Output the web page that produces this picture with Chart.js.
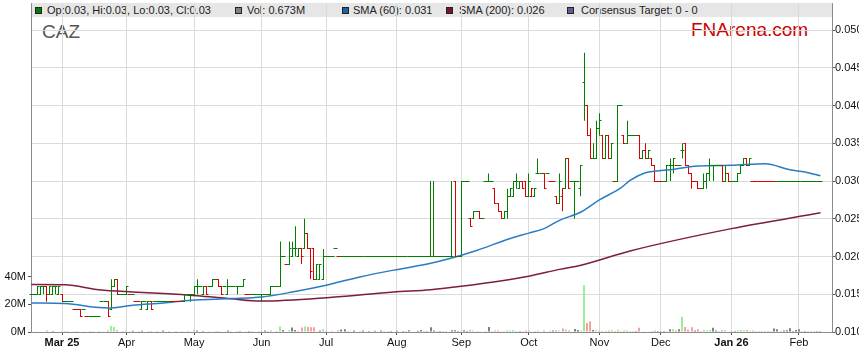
<!DOCTYPE html>
<html>
<head>
<meta charset="utf-8">
<script src="https://cdn.jsdelivr.net/npm/chart.js@4.4.1/dist/chart.umd.min.js"></script>
<style>
  html, body { margin: 0; padding: 0; background: #fff; overflow: hidden; }
  #wrap { position: relative; width: 859px; height: 363px; font-family: Arial, "Liberation Sans", sans-serif; }
  #header { position: absolute; left: 31px; top: 3px; width: 801px; height: 14px; background: #e6e6e6; z-index: 1; }
  .box { position: absolute; top: 7px; width: 5px; height: 5px; border: 1px solid #222; z-index: 1; }
  .lbl { position: absolute; top: 4px; font-size: 11px; line-height: 13px; color: #222; white-space: nowrap; z-index: 1; }
  #sym { position: absolute; left: 42px; top: 21px; font-size: 19px; color: #555; z-index: 1; }
  #brand { position: absolute; left: 691px; top: 19px; font-size: 19px; color: #cc0000; z-index: 1; }
  #chart { position: absolute; left: 0; top: 0; z-index: 2; }
</style>
</head>
<body>
<div id="wrap">
  <div id="header"></div>
  <div class="box" style="left:35px;background:#008000"></div><div class="lbl" style="left:47px">Op:0.03, Hi:0.03, Lo:0.03, Cl:0.03</div>
  <div class="box" style="left:235px;background:#808080"></div><div class="lbl" style="left:247px">Vol: 0.673M</div>
  <div class="box" style="left:342px;background:#1565a8"></div><div class="lbl" style="left:353px">SMA (60): 0.031</div>
  <div class="box" style="left:446px;background:#7b1230"></div><div class="lbl" style="left:459px">SMA (200): 0.026</div>
  <div class="box" style="left:567px;background:#5c5f99"></div><div class="lbl" style="left:581px">Consensus Target: 0 - 0</div>
  <div id="sym">CAZ</div>
  <div id="brand">FNArena.com</div>
  <canvas id="chart" width="859" height="363"></canvas>
</div>
<script>
// daily bars from Mon 17 Feb 2025, weekdays only
const START = Date.UTC(2025, 1, 17);
const NUM_DAYS = 258;

const monthLabels = ['Mar 25', 'Apr', 'May', 'Jun', 'Jul', 'Aug', 'Sep', 'Oct', 'Nov', 'Dec', 'Jan 26', 'Feb'];
const priceTicks = [10, 15, 20, 25, 30, 35, 40, 45, 50];   // tenths of a cent
const volTicks = [0, 20, 40];                             // millions

// prices in tenths of a cent (15 = 0.015)
const opens = [
  15,15,15,15,16,16,15,15,16,15, 15,14,14,14,13,13,13,13,12,12,
  12,12,12,14,14,14,13,16,17,15, 15,15,15,15,14,14,13,14,13,14,
  14,14,14,14,14,14,14,14,14,14, 14,15,15,15,16,16,15,16,16,16,
  17,17,16,16,15,16,16,16,16,16, 15,15,15,15,15,15,15,15,15,16,
  16,16,20,19,19,20,21,20,21,21, 23,21,21,17,17,17,20,20,20,21,
  20,20,20,20,20,20,20,20,20,20, 20,20,20,20,20,20,20,20,20,20,
  20,20,20,20,20,20,20,20,20,20, 20,20,20,20,20,20,20,20,30,20,
  20,30,30,25,25,26,26,25,30,30, 30,29,27,26,25,26,28,28,30,29,
  30,30,28,28,28,31,31,31,31,30, 30,28,27,28,29,33,30,30,30,29,
  43,40,36,33,33,37,36,33,36,33, 30,30,40,36,35,36,36,36,36,33,
  34,33,33,32,30,30,30,30,32,32, 32,32,34,35,32,31,30,30,29,29,
  30,31,32,32,32,32,30,31,30,30, 30,31,32,33,32,30,30,30,30,30,
  30,30,30,30,30,30,30,30,30,30, 30,30,30,30,30,30,30,30
];
const highs = [
  15,15,16,16,16,16,16,16,16,16, 15,14,14,14,13,13,13,13,12,12,
  12,12,12,14,14,14,17,17,17,15, 15,16,15,15,14,14,14,14,14,14,
  14,14,14,14,14,14,14,14,14,14, 15,15,15,16,17,16,16,16,16,17,
  17,17,16,16,17,16,16,16,16,17, 15,15,15,15,15,15,15,15,16,16,
  16,22,20,19,22,22,24,21,21,25, 23,21,21,19,19,21,20,20,20,21,
  20,20,20,20,20,20,20,20,20,20, 20,20,20,20,20,20,20,20,20,20,
  20,20,20,20,20,20,20,20,20,20, 30,30,20,20,20,20,20,30,30,20,
  30,30,30,25,26,26,26,25,30,31, 30,29,27,26,26,29,29,30,31,30,
  30,30,31,29,29,33,31,31,31,30, 30,28,31,29,33,33,30,30,30,32,
  47,40,37,35,38,39,36,36,36,35, 30,40,40,36,38,36,36,36,36,34,
  35,34,33,32,30,30,30,32,33,33, 32,32,35,35,32,31,30,30,29,31,
  31,33,32,32,32,32,32,31,30,30, 31,32,33,33,33,30,30,30,30,30,
  30,30,30,30,30,30,30,30,30,30, 30,30,30,30,30,30,30,30
];
const lows = [
  15,15,15,15,15,14,15,15,15,15, 14,14,14,14,13,13,12,13,12,12,
  12,12,12,14,14,12,13,16,15,15, 15,15,15,15,14,14,13,14,13,13,
  14,14,14,14,14,14,14,14,14,14, 14,15,14,15,15,16,15,15,16,16,
  17,16,15,16,15,16,16,15,16,16, 15,15,15,15,15,14,15,15,15,16,
  16,16,20,19,19,20,20,20,19,21, 21,17,17,17,17,17,20,20,20,21,
  20,20,20,20,20,20,20,20,20,20, 20,20,20,20,20,20,20,20,20,20,
  20,20,20,20,20,20,20,20,20,20, 20,20,20,20,20,20,20,20,20,20,
  20,30,30,24,25,26,25,25,30,30, 30,27,26,25,25,25,28,28,29,29,
  29,28,28,28,28,31,31,29,31,30, 30,27,27,26,29,29,30,25,30,28,
  38,36,33,33,33,36,33,33,33,33, 30,30,40,35,35,36,36,36,33,33,
  33,33,32,30,30,30,30,30,30,31, 32,32,33,32,31,29,30,29,29,29,
  29,30,30,32,32,30,30,30,30,30, 30,31,32,32,32,30,30,30,30,30,
  30,30,30,30,30,30,30,30,30,30, 30,30,30,30,30,30,30,30
];
const closes = [
  15,15,16,16,16,15,16,16,16,16, 14,14,14,14,13,13,12,13,12,12,
  12,12,12,14,14,12,16,17,15,15, 15,16,15,15,14,14,14,14,14,13,
  14,14,14,14,14,14,14,14,14,14, 15,15,15,16,16,16,16,15,16,17,
  17,16,15,16,16,16,16,16,16,17, 15,15,15,15,15,15,15,15,16,16,
  16,20,20,19,21,21,21,21,20,23, 21,18,17,19,19,20,20,20,20,21,
  20,20,20,20,20,20,20,20,20,20, 20,20,20,20,20,20,20,20,20,20,
  20,20,20,20,20,20,20,20,20,20, 20,20,20,20,20,20,20,20,20,20,
  30,30,30,24,26,26,25,25,30,30, 30,27,26,25,26,28,29,30,30,30,
  29,28,30,29,29,31,31,29,31,30, 30,27,30,29,33,29,30,30,30,32,
  40,36,33,33,37,38,33,36,33,35, 30,40,40,35,36,36,36,36,33,34,
  33,34,32,30,30,30,30,32,32,33, 32,32,34,32,31,30,30,29,29,30,
  31,32,32,32,32,30,31,30,30,30, 31,32,33,32,33,30,30,30,30,30,
  30,30,30,30,30,30,30,30,30,30, 30,30,30,30,30,30,30,30
];
// unchanged-close days that are still drawn red in the picture
const redFlatDays = [15, 35, 46, 47, 48, 49, 71, 138, 170, 204, 205, 216, 218, 236, 237, 238, 239, 240, 241, 242];
// volume in millions
const volumes = [
  0.4,0.3,0.5,0.4,0.3,1.0,0.3,0.8,0.4,0.3, 0.5,0.2,0.2,0.3,0.2,0.2,0.4,0.2,0.3,0.2,
  0.2,0.3,0.2,0.6,0.3,1.0,4.4,3.6,1.2,0.3, 0.2,1.0,0.2,0.9,0.3,0.2,0.9,0.3,0.2,0.8,
  0.3,0.2,0.3,1.0,0.3,0.2,0.3,0.2,0.3,0.2, 0.3,0.2,0.3,1.5,1.0,0.3,0.8,0.3,0.2,0.3,
  0.2,0.8,0.3,0.2,1.0,0.2,0.3,0.2,0.8,0.3, 0.2,0.8,0.2,0.3,0.2,0.2,1.0,0.2,1.2,0.3,
  0.2,4.2,1.5,0.3,1.2,3.2,1.5,0.2,3.3,4.0, 3.6,3.4,3.5,0.5,1.0,2.0,0.2,0.3,0.5,0.3,
  1.2,1.8,2.0,0.6,0.3,1.0,0.4,0.2,1.0,0.3, 0.8,0.4,0.9,0.3,1.0,0.5,0.2,0.8,0.4,0.9,
  0.3,0.8,0.5,1.2,0.4,0.3,0.9,1.5,0.5,0.8, 3.5,1.0,0.6,0.8,0.5,0.6,0.4,1.2,1.3,0.8,
  0.9,1.2,0.8,1.2,1.0,0.5,0.6,0.4,0.8,3.6, 0.5,1.0,1.0,0.6,0.8,1.2,1.0,1.4,0.6,0.8,
  0.6,1.1,1.0,0.3,0.5,1.0,0.3,1.0,0.4,0.9, 1.0,1.2,1.0,2.5,1.8,1.0,0.4,2.2,1.5,1.0,
  34,6.5,7.8,1.5,1.2,1.0,0.8,0.9,1.0,1.5, 0.8,1.7,0.6,1.0,1.3,0.6,0.5,0.7,3.0,0.4,
  0.6,0.5,0.8,1.0,0.8,0.6,0.8,0.6,2.0,2.0, 1.0,2.0,11.0,3.6,1.8,3.5,1.0,2.0,0.5,1.5,
  1.2,1.5,3.0,1.0,0.5,1.2,1.5,0.3,0.5,0.8, 1.2,1.5,1.3,1.4,0.9,1.0,0.6,0.5,0.6,0.6,
  0.6,0.6,2.5,2.0,0.5,1.0,1.2,2.8,0.8,1.5, 2.0,0.6,0.7,0.6,0.6,0.6,0.7,0.673
];
// moving averages: day index and value (tenths of a cent)
const sma60Days = [0, 11, 22, 25, 33, 43, 52, 65, 75, 85, 96, 107, 118, 129, 136, 145, 156, 162, 167, 172, 179, 185, 192, 195, 200, 208, 217, 228, 239, 247, 252, 257];
const sma60Vals = [13.85, 13.77, 13.24, 13.18, 13.54, 13.85, 14.2, 14.43, 14.64, 15.3, 16.2, 17.3, 18.2, 19.0, 19.7, 20.8, 22.4, 23.1, 23.7, 24.8, 25.9, 27.5, 29.1, 30.1, 31.1, 31.5, 32.0, 32.1, 32.3, 31.5, 31.2, 30.7];
const sma200Days = [0, 11, 22, 33, 43, 54, 65, 75, 98, 118, 130, 140, 162, 172, 179, 195, 228, 257];
const sma200Vals = [16.3, 16.25, 15.6, 15.3, 15.1, 14.8, 14.4, 14.1, 14.6, 15.3, 15.6, 16.06, 17.4, 18.3, 18.85, 20.74, 23.7, 25.8];

const FONT = 'Arial, "Liberation Sans", sans-serif';
const UP = '#008000', DOWN = '#dd0000';
const VOL_UP = '#99ee99', VOL_DOWN = '#f7a0a0', VOL_FLAT = '#808080';

// trading days and the first trading day of each month
const tradingDays = [];
for (let t = START; tradingDays.length < NUM_DAYS; t += 86400000) {
  const d = new Date(t);
  const wd = d.getUTCDay();
  if (wd !== 0 && wd !== 6) tradingDays.push(d);
}
const monthStarts = [];
tradingDays.forEach((d, i) => {
  if (i > 0 && d.getUTCMonth() !== tradingDays[i - 1].getUTCMonth()) monthStarts.push(i);
});

// colour by change against the previous close
const barColors = [];
const volColors = [];
closes.forEach((c, i) => {
  const prev = i > 0 ? closes[i - 1] : c;
  let col = c < prev ? DOWN : UP;
  if (c === prev && redFlatDays.includes(i)) col = DOWN;
  barColors.push(col);
  volColors.push(c > prev ? VOL_UP : (c < prev ? VOL_DOWN : VOL_FLAT));
});

// snap bars to whole pixels so the 1px lines stay sharp
const crispBars = {
  id: 'crispBars',
  beforeDatasetDraw(chart, args) {
    if (args.meta.type !== 'bar') return;
    args.meta.data.forEach(el => {
      el.x = el.width % 2 ? Math.floor(el.x) + 0.5 : Math.round(el.x);
    });
  }
};

// open tick on the left, close tick on the right
const ohlcTicks = {
  id: 'ohlcTicks',
  afterDatasetsDraw(chart) {
    const yScale = chart.scales.price;
    const bars = chart.getDatasetMeta(1).data;
    const ctx = chart.ctx;
    ctx.save();
    ctx.lineWidth = 1;
    closes.forEach((c, i) => {
      const px = bars[i].x;
      const po = Math.floor(yScale.getPixelForValue(opens[i])) + 0.5;
      const pc = Math.floor(yScale.getPixelForValue(c)) + 0.5;
      ctx.strokeStyle = barColors[i];
      ctx.beginPath();
      ctx.moveTo(px - 2, po);
      ctx.lineTo(px + 0.5, po);
      ctx.moveTo(px - 0.5, pc);
      ctx.lineTo(px + 2, pc);
      ctx.stroke();
    });
    ctx.restore();
  }
};

const noPad = s => { s.paddingTop = 0; s.paddingBottom = 0; s.paddingLeft = 0; s.paddingRight = 0; };

new Chart(document.getElementById('chart'), {
  type: 'bar',
  data: {
    datasets: [
      {
        type: 'line',
        label: 'SMA (60)',
        data: sma60Days.map((d, i) => ({ x: d, y: sma60Vals[i] })),
        yAxisID: 'price',
        borderColor: '#2a7cc2',
        borderWidth: 1.5,
        pointRadius: 0,
        cubicInterpolationMode: 'monotone',
        order: 0
      },
      {
        label: 'Price',
        data: closes.map((c, i) => ({ x: i, y: [lows[i], highs[i]] })),
        yAxisID: 'price',
        backgroundColor: barColors,
        barThickness: 1,
        grouped: false,
        inflateAmount: 0,
        order: 1
      },
      {
        type: 'line',
        label: 'SMA (200)',
        data: sma200Days.map((d, i) => ({ x: d, y: sma200Vals[i] })),
        yAxisID: 'price',
        borderColor: '#7d1d40',
        borderWidth: 1.5,
        pointRadius: 0,
        cubicInterpolationMode: 'monotone',
        order: 0
      },
      {
        label: 'Vol',
        data: volumes.map((v, i) => ({ x: i, y: v })),
        yAxisID: 'vol',
        backgroundColor: volColors,
        barThickness: 2,
        grouped: false,
        inflateAmount: 0,
        order: 3
      }
    ]
  },
  options: {
    responsive: false,
    animation: false,
    devicePixelRatio: 1,
    layout: { padding: { top: 3, left: 0, right: 0, bottom: 0 } },
    plugins: { legend: { display: false }, tooltip: { enabled: false } },
    scales: {
      x: {
        type: 'linear',
        min: -0.1,
        max: 260.75,
        offset: false,
        afterBuildTicks: s => { s.ticks = monthStarts.map(v => ({ value: v })); },
        afterFit: s => { s.height = 31; noPad(s); },
        grid: { color: '#dadada', tickColor: '#555', tickLength: 3, offset: false },
        border: { color: '#8c8c8c' },
        ticks: {
          autoSkip: false,
          maxRotation: 0,
          padding: 1,
          color: '#111',
          font: ctx => ({ family: FONT, size: 11, weight: (monthLabels[ctx.index] || '').includes(' ') ? 'bold' : 'normal' }),
          callback: (v, i) => monthLabels[i]
        }
      },
      price: {
        type: 'linear',
        position: 'right',
        min: 10,
        max: 53.6,
        afterBuildTicks: s => { s.ticks = priceTicks.map(v => ({ value: v })); },
        afterFit: s => { s.width = 27; noPad(s); },
        grid: { color: '#dadada', tickColor: '#555', tickLength: 3 },
        border: { color: '#8c8c8c' },
        ticks: { padding: 0, color: '#111', font: { family: FONT, size: 11 }, callback: v => (v / 1000).toFixed(3) }
      },
      vol: {
        type: 'linear',
        position: 'left',
        min: 0,
        max: 238,
        afterBuildTicks: s => { s.ticks = volTicks.map(v => ({ value: v })); },
        afterFit: s => { s.width = 31; noPad(s); },
        grid: { drawOnChartArea: false, tickColor: '#555', tickLength: 3 },
        border: { color: '#8c8c8c' },
        ticks: { padding: 2, color: '#111', font: { family: FONT, size: 11 }, callback: v => v + 'M' }
      }
    }
  },
  plugins: [crispBars, ohlcTicks]
});
</script>
</body>
</html>
